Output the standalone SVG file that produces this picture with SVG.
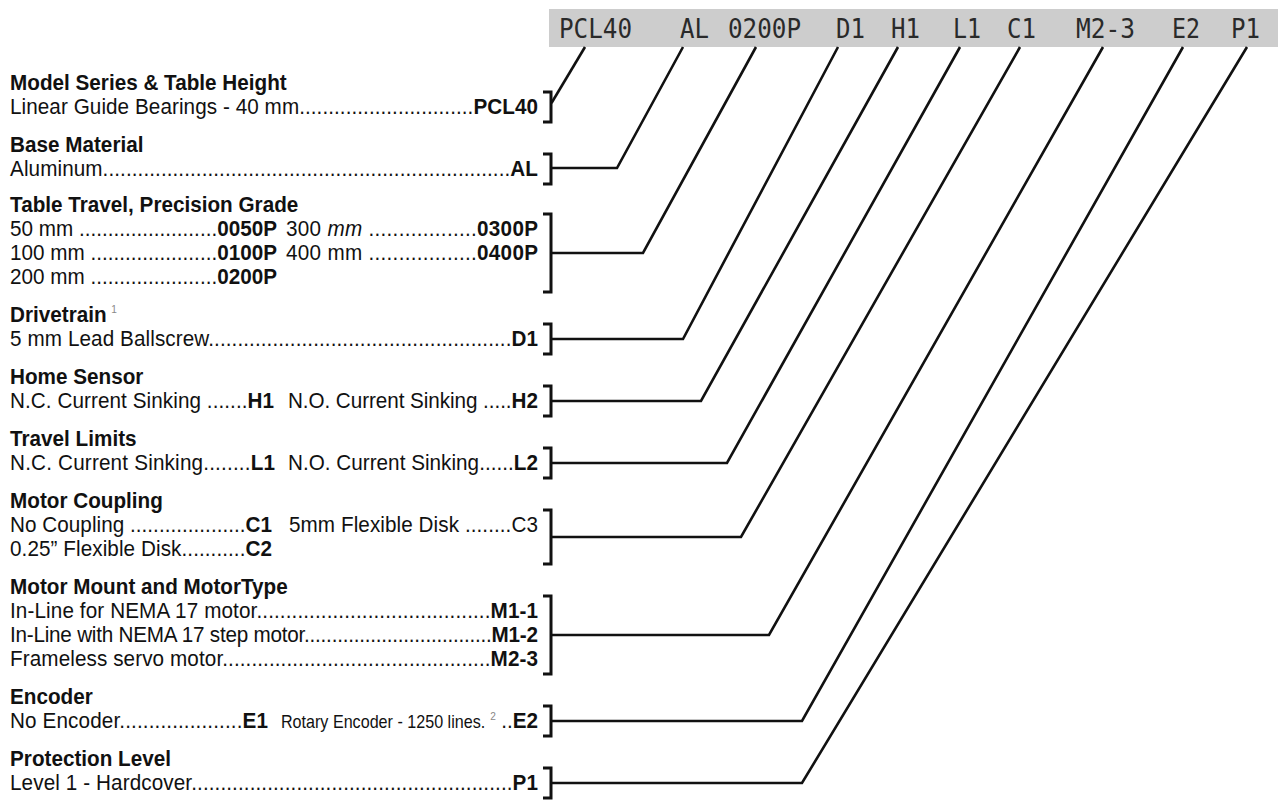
<svg xmlns="http://www.w3.org/2000/svg" width="1278" height="803" viewBox="0 0 1278 803">
<style>
.tx{font-family:"Liberation Sans",Arial,sans-serif;font-size:22.5px;fill:#111}
.t{font-weight:bold}
.b{font-weight:bold}
.it{font-style:italic}
.e{text-anchor:end}
.sup{font-size:11px;fill:#888;font-weight:normal}
.br{fill:none;stroke:#111;stroke-width:3}
.cn{fill:none;stroke:#111;stroke-width:2.6;stroke-linejoin:miter}
.hd{font-family:"DejaVu Sans Mono",monospace;font-size:26px;fill:#2a2a2a}
</style>
<rect width="1278" height="803" fill="#fff"/>
<g id="header">
<rect x="549" y="9" width="729" height="38" fill="#cdcdcd"/>
<text class="hd" x="559" y="38" textLength="73" lengthAdjust="spacingAndGlyphs">PCL40</text>
<text class="hd" x="680" y="38" textLength="29" lengthAdjust="spacingAndGlyphs">AL</text>
<text class="hd" x="728" y="38" textLength="73" lengthAdjust="spacingAndGlyphs">0200P</text>
<text class="hd" x="836" y="38" textLength="29" lengthAdjust="spacingAndGlyphs">D1</text>
<text class="hd" x="891" y="38" textLength="29" lengthAdjust="spacingAndGlyphs">H1</text>
<text class="hd" x="953" y="38" textLength="28" lengthAdjust="spacingAndGlyphs">L1</text>
<text class="hd" x="1007" y="38" textLength="29" lengthAdjust="spacingAndGlyphs">C1</text>
<text class="hd" x="1076" y="38" textLength="59" lengthAdjust="spacingAndGlyphs">M2-3</text>
<text class="hd" x="1172" y="38" textLength="28" lengthAdjust="spacingAndGlyphs">E2</text>
<text class="hd" x="1231" y="38" textLength="29" lengthAdjust="spacingAndGlyphs">P1</text>
</g>
<g id="model-series">
<g class="tx" transform="scale(0.92 1)">
<text class="t" x="10.9" y="90">Model Series &amp; Table Height</text>
<text x="10.9" y="114" textLength="573.9" lengthAdjust="spacing">Linear Guide Bearings - 40 mm..............................<tspan class="b">PCL40</tspan></text>
</g>
<path class="br" d="M543,92H551V122H543"/>
</g>
<g id="base-material">
<g class="tx" transform="scale(0.92 1)">
<text class="t" x="10.9" y="152">Base Material</text>
<text x="10.9" y="176" textLength="573.9" lengthAdjust="spacing">Aluminum......................................................................<tspan class="b">AL</tspan></text>
</g>
<path class="br" d="M543,154H551V184H543"/>
</g>
<g id="table-travel">
<g class="tx" transform="scale(0.92 1)">
<text class="t" x="10.9" y="212">Table Travel, Precision Grade</text>
<text x="10.9" y="236" textLength="290.2" lengthAdjust="spacing">50 mm ........................<tspan class="b">0050P</tspan></text>
<text x="310.9" y="236" textLength="273.9" lengthAdjust="spacing">300 <tspan class="it">mm</tspan>  ..................<tspan class="b">0300P</tspan></text>
<text x="10.9" y="260" textLength="290.2" lengthAdjust="spacing">100 mm ......................<tspan class="b">0100P</tspan></text>
<text x="310.9" y="260" textLength="273.9" lengthAdjust="spacing">400 mm  ..................<tspan class="b">0400P</tspan></text>
<text x="10.9" y="284" textLength="290.2" lengthAdjust="spacing">200 mm ......................<tspan class="b">0200P</tspan></text>
</g>
<path class="br" d="M543,214H551V292H543"/>
</g>
<g id="drivetrain">
<g class="tx" transform="scale(0.92 1)">
<text class="t" x="10.9" y="322">Drivetrain<tspan class="sup" dx="5" dy="-9">1</tspan></text>
<text x="10.9" y="346" textLength="573.9" lengthAdjust="spacing">5 mm Lead Ballscrew....................................................<tspan class="b">D1</tspan></text>
</g>
<path class="br" d="M543,324H551V354H543"/>
</g>
<g id="home-sensor">
<g class="tx" transform="scale(0.92 1)">
<text class="t" x="10.9" y="384">Home Sensor</text>
<text x="10.9" y="408" textLength="287" lengthAdjust="spacing">N.C. Current Sinking .......<tspan class="b">H1</tspan></text>
<text x="313" y="408" textLength="271.7" lengthAdjust="spacing">N.O. Current Sinking .....<tspan class="b">H2</tspan></text>
</g>
<path class="br" d="M543,386H551V416H543"/>
</g>
<g id="travel-limits">
<g class="tx" transform="scale(0.92 1)">
<text class="t" x="10.9" y="446">Travel Limits</text>
<text x="10.9" y="470" textLength="288" lengthAdjust="spacing">N.C. Current Sinking........<tspan class="b">L1</tspan></text>
<text x="313" y="470" textLength="271.7" lengthAdjust="spacing">N.O. Current Sinking......<tspan class="b">L2</tspan></text>
</g>
<path class="br" d="M543,448H551V478H543"/>
</g>
<g id="motor-coupling">
<g class="tx" transform="scale(0.92 1)">
<text class="t" x="10.9" y="508">Motor Coupling</text>
<text x="10.9" y="532" textLength="284.8" lengthAdjust="spacing">No Coupling ....................<tspan class="b">C1</tspan></text>
<text x="314.1" y="532" textLength="270.6" lengthAdjust="spacing">5mm Flexible Disk ........C3</text>
<text x="10.9" y="556" textLength="284.8" lengthAdjust="spacing">0.25” Flexible Disk...........<tspan class="b">C2</tspan></text>
</g>
<path class="br" d="M543,510H551V564H543"/>
</g>
<g id="motor-mount">
<g class="tx" transform="scale(0.92 1)">
<text class="t" x="10.9" y="594">Motor Mount and MotorType</text>
<text x="10.9" y="618" textLength="573.9" lengthAdjust="spacing">In-Line for NEMA 17 motor........................................<tspan class="b">M1-1</tspan></text>
<text x="10.9" y="642" textLength="573.9" lengthAdjust="spacing">In-Line with NEMA 17 step motor..................................<tspan class="b">M1-2</tspan></text>
<text x="10.9" y="666" textLength="573.9" lengthAdjust="spacing">Frameless servo motor..............................................<tspan class="b">M2-3</tspan></text>
</g>
<path class="br" d="M543,596H551V674H543"/>
</g>
<g id="encoder">
<g class="tx" transform="scale(0.92 1)">
<text class="t" x="10.9" y="704">Encoder</text>
<text x="10.9" y="728" textLength="280.4" lengthAdjust="spacing">No Encoder.....................<tspan class="b">E1</tspan></text>
<text x="305.4" y="728" style="font-size:17.5px" textLength="222" lengthAdjust="spacingAndGlyphs">Rotary Encoder - 1250 lines.</text>
<text class="sup" x="533" y="720">2</text>
<text class="e" x="584.8" y="728">..<tspan class="b">E2</tspan></text>
</g>
<path class="br" d="M543,706H551V736H543"/>
</g>
<g id="protection-level">
<g class="tx" transform="scale(0.92 1)">
<text class="t" x="10.9" y="766">Protection Level</text>
<text x="10.9" y="790" textLength="573.9" lengthAdjust="spacing">Level 1 - Hardcover.......................................................<tspan class="b">P1</tspan></text>
</g>
<path class="br" d="M543,768H551V798H543"/>
</g>
<g id="connectors">
<polyline class="cn" points="585,47 551.5,103"/>
<polyline class="cn" points="683,47 617,168 552,168"/>
<polyline class="cn" points="756,47 643,253 552,253"/>
<polyline class="cn" points="838,47 683,339 552,339"/>
<polyline class="cn" points="898,47 701,401 552,401"/>
<polyline class="cn" points="960,47 727,463 552,463"/>
<polyline class="cn" points="1020,47 741,537 552,537"/>
<polyline class="cn" points="1103,47 769,635 552,635"/>
<polyline class="cn" points="1183,47 802,721 552,721"/>
<polyline class="cn" points="1247,47 802,783 552,783"/>
</g>
</svg>
